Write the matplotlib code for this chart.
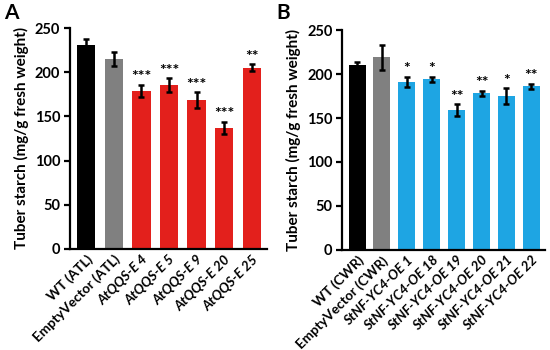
import matplotlib
matplotlib.use("Agg")
import matplotlib.pyplot as plt

plt.rcParams['font.family'] = ['Lato', 'DejaVu Sans']

cats_a = ["WT (ATL)", "EmptyVector (ATL)", "AtQQS-E 4", "AtQQS-E 5", "AtQQS-E 9", "AtQQS-E 20", "AtQQS-E 25"]
vals_a = [231, 215, 179, 185, 168, 137, 205]
errs_a = [6, 8, 7, 8, 9, 7, 4]
sig_a = ["", "", "***", "***", "***", "***", "**"]

cats_b = ["WT (CWR)", "EmptyVector (CWR)", "StNF-YC4-OE 1", "StNF-YC4-OE 18", "StNF-YC4-OE 19",
          "StNF-YC4-OE 20", "StNF-YC4-OE 21", "StNF-YC4-OE 22"]
vals_b = [210, 219, 191, 194, 159, 178, 175, 186]
errs_b = [4, 14, 6, 3, 7, 3, 9, 3]
sig_b = ["", "", "*", "*", "**", "**", "*", "**"]

yticks = [0, 50, 100, 150, 200, 250]
ylabel = "Tuber starch (mg/g fresh weight)"

fig = plt.figure(figsize=(5.5, 3.5), dpi=100)
axA = fig.add_axes([0.127, 0.289, 0.358, 0.631])
axB = fig.add_axes([0.622, 0.286, 0.369, 0.628])


def draw(ax, cats, vals, errs, sig, color, width):
    colors = ["#000000", "#808080"] + [color] * (len(cats) - 2)
    x = list(range(len(cats)))
    ax.bar(x, vals, width=width, color=colors, zorder=2)
    ax.errorbar(x, vals, yerr=errs, fmt="none", ecolor="black", elinewidth=1.8,
                capsize=2.5, capthick=1.8, zorder=3)
    for xi, v, e, s in zip(x, vals, errs, sig):
        if s:
            ax.text(xi, v + e + 0.5, s, ha="center", va="bottom", fontsize=11.5, fontweight="bold")
    ax.set_ylim(0, 250)
    ax.set_xlim(-0.6, len(cats) - 0.45)
    ax.set_yticks(yticks)
    ax.set_yticklabels([str(t) for t in yticks], fontsize=10.5, fontweight="bold")
    ax.set_xticks(x)
    labels = ax.set_xticklabels(cats, rotation=45, ha="right", rotation_mode="anchor",
                                fontsize=9.8, fontweight="bold")
    for i, lab in enumerate(labels):
        if i >= 2:
            lab.set_fontstyle("italic")
    ax.set_ylabel(ylabel, fontsize=11, fontweight="bold", labelpad=4)
    for s in ["top", "right"]:
        ax.spines[s].set_visible(False)
    for s in ["left", "bottom"]:
        ax.spines[s].set_linewidth(1.6)
    ax.tick_params(axis="y", length=4, width=1.6, pad=3)
    ax.tick_params(axis="x", length=0, pad=3)


draw(axA, cats_a, vals_a, errs_a, sig_a, "#e3201c", 0.66)
draw(axB, cats_b, vals_b, errs_b, sig_b, "#1ea5e3", 0.68)

fig.text(0.008, 0.962, "A", fontsize=15, fontweight="bold", va="center")
fig.text(0.503, 0.962, "B", fontsize=15, fontweight="bold", va="center")

fig.savefig("out.png", dpi=100)
